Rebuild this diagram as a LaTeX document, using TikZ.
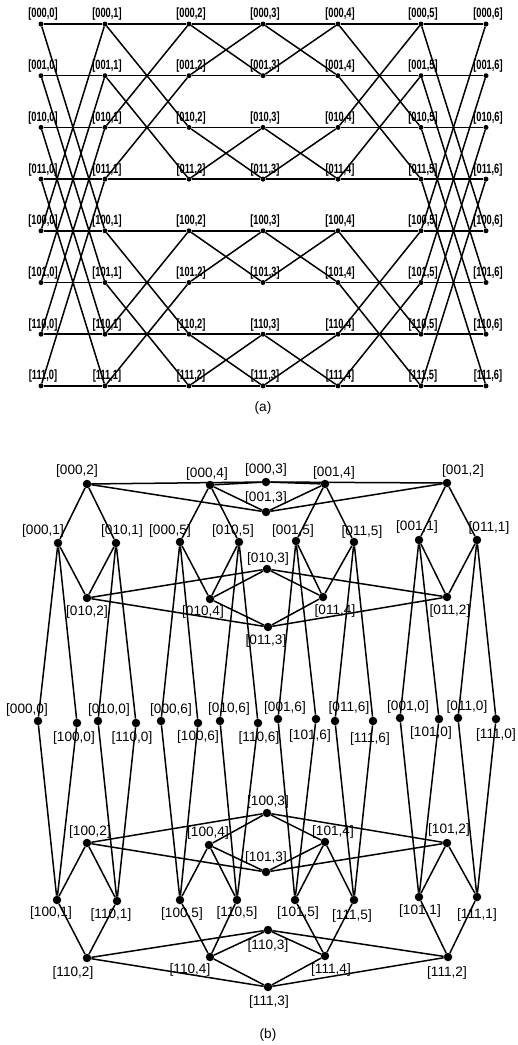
\documentclass[tikz,border=0pt]{standalone}
\usepackage{fontspec}
\setmainfont{Liberation Sans}
\newfontfamily\narrowbold{Liberation Sans Bold}[FakeStretch=0.69]
\begin{document}
\begin{tikzpicture}[x=1pt,y=-1pt,
  dota/.style={circle,fill=black,inner sep=0pt,minimum size=5pt},
  dotb/.style={circle,fill=black,inner sep=0pt,minimum size=8.5pt},
  laba/.style={inner sep=0pt,font=\narrowbold\fontsize{13.4}{15}\selectfont},
  labb/.style={inner sep=0pt,font=\fontsize{13.6}{16}\selectfont},
  capt/.style={inner sep=0pt,font=\fontsize{13.6}{16}\selectfont},
  edgea/.style={line width=1.5pt},
  edgeb/.style={line width=1.5pt}]
\useasboundingbox (0,0) rectangle (518,1045);
% ---------------- (a) ----------------
\foreach \r [count=\i from 0] in {000,001,010,011,100,101,110,111} {
  \foreach \c/\x in {0/41,1/105,2/189,3/263,4/338,5/421,6/486} {
    \node[dota] (a\r-\c) at (\x,{24+\i*51.7}) {};
    \node[laba] (la\r-\c) at ({\x+2},{24+\i*51.7-9.5}) {[\r,\c]};
  }
}
\foreach \r in {000,001,010,011,100,101,110,111} {
  \foreach \c/\d in {0/1,1/2,2/3,3/4,4/5,5/6} {
    \draw[edgea] (a\r-\c) -- (a\r-\d);
  }
}
\foreach \p/\q in {000/100,001/101,010/110,011/111} {
  \foreach \c/\d in {0/1,5/6} {
    \draw[edgea] (a\p-\c) -- (a\q-\d);
    \draw[edgea] (a\q-\c) -- (a\p-\d);
  }
}
\foreach \p/\q in {000/010,001/011,100/110,101/111} {
  \foreach \c/\d in {1/2,4/5} {
    \draw[edgea] (a\p-\c) -- (a\q-\d);
    \draw[edgea] (a\q-\c) -- (a\p-\d);
  }
}
\foreach \p/\q in {000/001,010/011,100/101,110/111} {
  \foreach \c/\d in {2/3,3/4} {
    \draw[edgea] (a\p-\c) -- (a\q-\d);
    \draw[edgea] (a\q-\c) -- (a\p-\d);
  }
}
\node[capt] (capa) at (263,408) {(a)};
% ---------------- (b) ----------------
\foreach \r/\c/\x/\y/\lx/\ly in {
  000/3/266/482/266/470, 000/2/87/484/77/471, 001/2/447/483/463/471,
  000/4/210/485/207/474, 001/4/325/484/334/473, 001/3/266/512/266/498,
  000/1/58/543/43/531, 010/1/116/543/122/531, 000/5/180/542/170/531,
  010/5/239/542/233/531, 001/5/296/541/293/531, 011/5/354/542/362/532,
  001/1/419/540/417/527, 011/1/477/540/489/528, 010/3/267/569/268/559,
  010/2/87/598/87/612, 010/4/210/599/203/612, 011/4/323/597/335/611,
  011/2/447/597/450/611, 011/3/268/627/266/641,
  000/0/38/721/27/710, 100/0/77/723/74/738, 010/0/98/721/109/710,
  110/0/136/723/132/738, 000/6/161/721/171/710, 100/6/198/723/198/737,
  010/6/220/721/229/709, 110/6/258/723/259/738, 001/6/278/719/285/708,
  101/6/316/719/310/736, 011/6/335/721/349/708, 111/6/373/721/370/739,
  001/0/400/718/408/707, 101/0/439/719/431/733, 011/0/458/718/467/707,
  111/0/496/719/496/735,
  100/3/267/813/268/802, 100/2/87/843/90/832, 100/4/209/845/208/833,
  101/4/325/842/333/832, 101/2/447/843/449/830, 101/3/266/872/266/858,
  100/1/57/900/51/913, 110/1/117/901/111/915, 100/5/180/900/182/914,
  110/5/237/900/237/913, 101/5/295/900/298/913, 111/5/354/900/352/916,
  101/1/419/897/420/911, 111/1/477/897/477/915, 110/3/268/930/268/946,
  110/2/87/958/73/973, 110/4/210/957/190/970, 111/4/325/956/331/970,
  111/2/448/957/447/973, 111/3/268/987/269/1002} {
  \node[dotb] (b\r-\c) at (\x,\y) {};
  \node[labb] (lb\r-\c) at (\lx,\ly) {[\r,\c]};
}
\foreach \r in {000,001,010,011,100,101,110,111} {
  \foreach \c/\d in {0/1,1/2,2/3,3/4,4/5,5/6} {
    \draw[edgeb] (b\r-\c) -- (b\r-\d);
  }
}
\foreach \p/\q in {000/100,001/101,010/110,011/111} {
  \foreach \c/\d in {0/1,5/6} {
    \draw[edgeb] (b\p-\c) -- (b\q-\d);
    \draw[edgeb] (b\q-\c) -- (b\p-\d);
  }
}
\foreach \p/\q in {000/010,001/011,100/110,101/111} {
  \foreach \c/\d in {1/2,4/5} {
    \draw[edgeb] (b\p-\c) -- (b\q-\d);
    \draw[edgeb] (b\q-\c) -- (b\p-\d);
  }
}
\foreach \p/\q in {000/001,010/011,100/101,110/111} {
  \foreach \c/\d in {2/3,3/4} {
    \draw[edgeb] (b\p-\c) -- (b\q-\d);
    \draw[edgeb] (b\q-\c) -- (b\p-\d);
  }
}
\node[capt] (capb) at (268,1035) {(b)};
\end{tikzpicture}
\end{document}
